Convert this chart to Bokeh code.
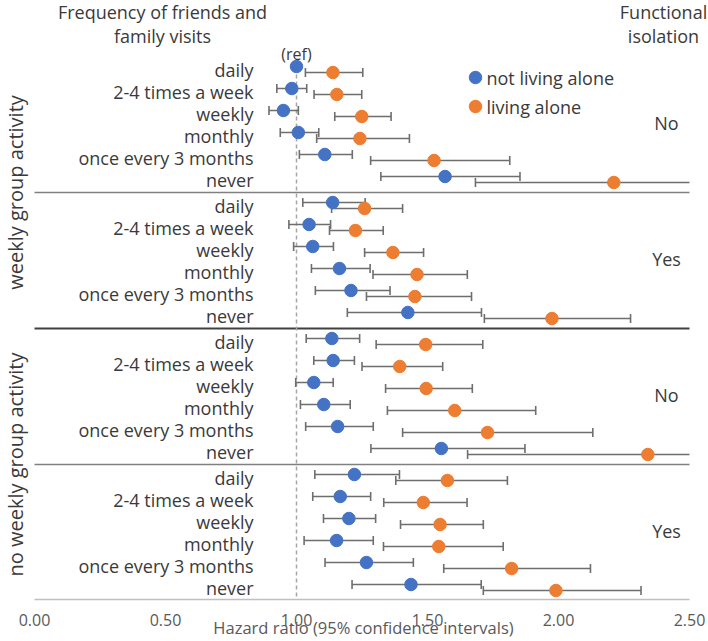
import numpy as np
from bokeh.plotting import figure
from bokeh.models import Range1d
from bokeh.core.properties import value
from bokeh.embed import file_html
from bokeh.resources import INLINE

# ---------------- data ----------------
frequencies = ["daily", "2-4 times a week", "weekly", "monthly",
               "once every 3 months", "never"]
group_activity = ["weekly group activity", "no weekly group activity"]
functional_isolation = ["No", "Yes", "No", "Yes"]
series_names = ["not living alone", "living alone"]

# not living alone (hazard ratio, lower CI, upper CI) for the 4 panels
na_hr_g1 = [1.00, 0.982, 0.950, 1.007, 1.108, 1.567]
na_lo_g1 = [np.nan, 0.925, 0.895, 0.938, 1.011, 1.322]
na_hi_g1 = [np.nan, 1.039, 1.007, 1.085, 1.213, 1.853]
na_hr_g2 = [1.138, 1.048, 1.062, 1.164, 1.208, 1.425]
na_lo_g2 = [1.024, 0.971, 0.989, 1.057, 1.072, 1.194]
na_hi_g2 = [1.262, 1.130, 1.141, 1.281, 1.357, 1.706]
na_hr_g3 = [1.135, 1.140, 1.066, 1.104, 1.157, 1.553]
na_lo_g3 = [1.037, 1.066, 0.997, 1.015, 1.035, 1.284]
na_hi_g3 = [1.241, 1.221, 1.140, 1.205, 1.293, 1.872]
na_hr_g4 = [1.221, 1.167, 1.200, 1.153, 1.267, 1.437]
na_lo_g4 = [1.070, 1.062, 1.103, 1.029, 1.109, 1.212]
na_hi_g4 = [1.393, 1.283, 1.302, 1.293, 1.446, 1.705]

# living alone
la_hr_g1 = [1.139, 1.154, 1.249, 1.242, 1.525, 2.211]
la_lo_g1 = [1.034, 1.067, 1.146, 1.077, 1.283, 1.683]
la_hi_g1 = [1.253, 1.249, 1.361, 1.431, 1.814, 2.900]
la_hr_g2 = [1.260, 1.225, 1.368, 1.460, 1.452, 1.975]
la_lo_g2 = [1.134, 1.126, 1.260, 1.292, 1.267, 1.717]
la_hi_g2 = [1.405, 1.331, 1.485, 1.652, 1.668, 2.275]
la_hr_g3 = [1.493, 1.394, 1.495, 1.604, 1.729, 2.341]
la_lo_g3 = [1.304, 1.250, 1.340, 1.347, 1.405, 1.653]
la_hi_g3 = [1.711, 1.558, 1.671, 1.913, 2.131, 3.300]
la_hr_g4 = [1.576, 1.484, 1.548, 1.543, 1.821, 1.990]
la_lo_g4 = [1.379, 1.333, 1.397, 1.332, 1.562, 1.713]
la_hi_g4 = [1.805, 1.651, 1.713, 1.789, 2.122, 2.315]

x_ticks = [0.0, 0.5, 1.0, 1.5, 2.0, 2.5]
x_tick_labels = ["0.00", "0.50", "1.00", "1.50", "2.00", "2.50"]
x_title = "Hazard ratio (95% confidence intervals)"
ref_value = 1.0
x_max = 2.5

# ---------------- layout (y in pixel-like units, top = 0) ----------------
W, H = 708, 641
X_ZERO_PX, PX_PER_UNIT = 34, 262.0
GROUP_TOP, GROUP_H, ROW0, ROW_H, OFFS = 56, 136, 13, 22, 3
TXT = "#3a3a3a"
FONT = value("Open Sans")
BLUE, ORANGE, BAR = "#4472C4", "#ED7D31", "#6e6e6e"


def px_to_x(px):
    return (px - X_ZERO_PX) / PX_PER_UNIT


p = figure(width=W, height=H, output_backend="svg", toolbar_location=None,
           x_range=Range1d(px_to_x(0), px_to_x(W)),
           y_range=Range1d(H, 0), min_border=0,
           x_axis_location=None, y_axis_location=None)
p.outline_line_color = None
p.grid.visible = False
p.background_fill_color = "white"
p.border_fill_color = "white"

na = [(na_hr_g1, na_lo_g1, na_hi_g1), (na_hr_g2, na_lo_g2, na_hi_g2),
      (na_hr_g3, na_lo_g3, na_hi_g3), (na_hr_g4, na_lo_g4, na_hi_g4)]
la = [(la_hr_g1, la_lo_g1, la_hi_g1), (la_hr_g2, la_lo_g2, la_hi_g2),
      (la_hr_g3, la_lo_g3, la_hi_g3), (la_hr_g4, la_lo_g4, la_hi_g4)]


def row_y(g, r):
    return GROUP_TOP + g * GROUP_H + ROW0 + r * ROW_H


# separators & bottom axis line
sep_y = [GROUP_TOP + g * GROUP_H for g in (1, 2, 3)] + [GROUP_TOP + 4 * GROUP_H - 1]
p.segment(x0=[0] * 4, x1=[x_max] * 4, y0=sep_y, y1=sep_y,
          line_color=["#808080", "#404040", "#808080", "#c0c0c0"],
          line_width=[1.5, 2, 1.5, 1.5])

# reference line
p.segment(x0=[ref_value], x1=[ref_value], y0=[GROUP_TOP + 4], y1=[GROUP_TOP + 4 * GROUP_H - 1],
          line_color="#a6a6a6", line_width=1.5, line_dash="4 3")


def series(data, off):
    xs, ys, bx0, bx1, by, cx, cy = [], [], [], [], [], [], []
    for g, (hr, lo, hi) in enumerate(data):
        for r in range(len(hr)):
            y = row_y(g, r) + off
            xs.append(hr[r]); ys.append(y)
            if not np.isnan(lo[r]):
                bx0.append(lo[r]); bx1.append(min(hi[r], x_max)); by.append(y)
                cx.append(lo[r]); cy.append(y)
                if hi[r] <= x_max:
                    cx.append(hi[r]); cy.append(y)
    return xs, ys, bx0, bx1, by, cx, cy


items = []
for data, off, color in [(na, -OFFS, BLUE), (la, OFFS, ORANGE)]:
    xs, ys, bx0, bx1, by, cx, cy = series(data, off)
    p.segment(x0=bx0, x1=bx1, y0=by, y1=by, line_color=BAR, line_width=1.6)
    p.segment(x0=cx, x1=cx, y0=[v - 4.5 for v in cy], y1=[v + 4.5 for v in cy],
              line_color=BAR, line_width=1.6)
    items.append((xs, ys, color))
for xs, ys, color in items:
    p.scatter(x=xs, y=ys, size=12.5, fill_color=color, line_color=color)

# row labels
rl_y, rl_t = [], []
for g in range(4):
    for r, f in enumerate(frequencies):
        rl_y.append(row_y(g, r)); rl_t.append(f)
p.text(x=[px_to_x(253)] * len(rl_t), y=rl_y, text=rl_t, text_font=FONT,
       text_font_size="18px", text_align="right", text_baseline="middle",
       text_color=TXT)

# (ref)
p.text(x=[ref_value], y=[GROUP_TOP - 3], text=["(ref)"], text_font=FONT,
       text_font_size="16px", text_align="center", text_baseline="middle",
       text_color=TXT)

# functional isolation labels
p.text(x=[px_to_x(666)] * 4, y=[GROUP_TOP + g * GROUP_H + GROUP_H / 2 - 2 for g in range(4)],
       text=functional_isolation, text_font=FONT, text_font_size="18px",
       text_align="center", text_baseline="middle", text_color=TXT)

# headers
p.text(x=[px_to_x(162)] * 2, y=[11, 35], text=["Frequency of friends and", "family visits"],
       text_font=FONT, text_font_size="18px", text_align="center",
       text_baseline="middle", text_color=TXT)
p.text(x=[px_to_x(663)] * 2, y=[11, 35], text=["Functional", "isolation"],
       text_font=FONT, text_font_size="18px", text_align="center",
       text_baseline="middle", text_color=TXT)

# group activity (rotated)
p.text(x=[px_to_x(15)] * 2, y=[GROUP_TOP + GROUP_H, GROUP_TOP + 3 * GROUP_H],
       text=group_activity, angle=np.pi / 2, text_font=FONT,
       text_font_size="20px", text_align="center", text_baseline="middle",
       text_color=TXT)

# legend (manual)
p.scatter(x=[px_to_x(475)] * 2, y=[77, 106], size=12.5, fill_color=[BLUE, ORANGE],
          line_color=[BLUE, ORANGE])
p.text(x=[px_to_x(486)] * 2, y=[77, 106], text=series_names, text_font=FONT,
       text_font_size="18px", text_align="left", text_baseline="middle",
       text_color=TXT)

# x tick labels and title
p.text(x=x_ticks, y=[619] * len(x_ticks), text=x_tick_labels, text_font=FONT,
       text_font_size="16px", text_align="center", text_baseline="middle",
       text_color="#595959")
p.text(x=[px_to_x(363)], y=[627], text=[x_title], text_font=FONT, text_font_size="16.5px",
       text_align="center", text_baseline="middle", text_color="#595959")

open("out.html", "w").write(file_html(p, INLINE))
